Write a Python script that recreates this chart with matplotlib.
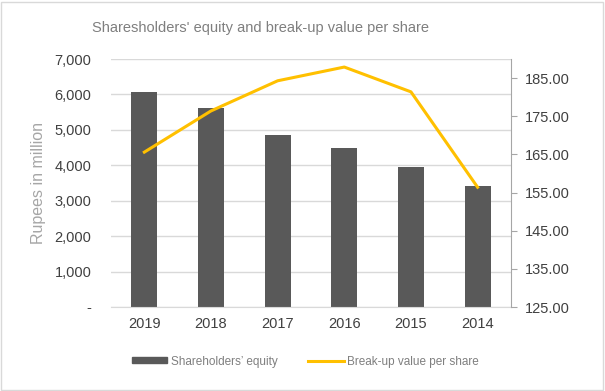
import numpy as np
import matplotlib.pyplot as plt
from matplotlib.ticker import FuncFormatter
from matplotlib.patches import Rectangle
from matplotlib.lines import Line2D

## Chart data
years = ["2019", "2018", "2017", "2016", "2015", "2014"]
equity = [6065, 5620, 4850, 4480, 3950, 3410]          # Rupees in million
breakup_value = [165.6, 176.4, 184.3, 187.9, 181.4, 156.4]  # per share

BAR_COLOR = "#595959"
LINE_COLOR = "#FFC000"
GRID_COLOR = "#d9d9d9"
TEXT_COLOR = "#404040"

plt.rcParams['font.family'] = ['Liberation Sans', 'DejaVu Sans']

fig = plt.figure(figsize=(6.05, 3.91), dpi=100)
ax = fig.add_axes([0.1835, 0.2148, 0.661, 0.6342])
x = np.arange(len(years))

## bars on left axis
ax.bar(x, equity, width=0.39, color=BAR_COLOR, zorder=2)
ax.set_xlim(-0.5, len(years) - 0.5)
ax.set_ylim(0, 7000)
ax.set_yticks(np.arange(0, 7001, 1000))
ax.yaxis.set_major_formatter(FuncFormatter(lambda v, p: "-" if v == 0 else f"{v:,.0f}"))
ax.set_xticks(x)
ax.set_xticklabels(years)
ax.grid(axis='y', color=GRID_COLOR, linewidth=1, zorder=0)
ax.set_axisbelow(True)
for s in ["top", "left", "right"]:
    ax.spines[s].set_visible(False)
ax.spines["bottom"].set_color(GRID_COLOR)
ax.tick_params(axis='both', length=0, labelsize=10.5, colors=TEXT_COLOR)
ax.tick_params(axis='y', pad=14)
ax.tick_params(axis='x', pad=7)
ax.set_ylabel("Rupees in million", fontsize=11.5, color="#a6a6a6", labelpad=6)

## line on right axis
ax2 = ax.twinx()
ax2.plot(x, breakup_value, color=LINE_COLOR, linewidth=2.2, zorder=3)
ax2.set_ylim(125, 190)
ax2.set_yticks(np.arange(125, 186, 10))
ax2.yaxis.set_major_formatter(FuncFormatter(lambda v, p: f"{v:.2f}"))
for s in ["top", "left", "bottom"]:
    ax2.spines[s].set_visible(False)
ax2.spines["right"].set_color("#a6a6a6")
ax2.tick_params(axis='y', length=4, direction='out', color="#a6a6a6",
                labelsize=10.5, labelcolor=TEXT_COLOR, pad=6)

## title
fig.text(0.43, 0.928, "Sharesholders' equity and break-up value per share",
         ha='center', va='center', fontsize=10.5, color="#7f7f7f")

## legend
handles = [Rectangle((0, 0), 1, 1, color=BAR_COLOR),
           Line2D([0], [0], color=LINE_COLOR, linewidth=2.2)]
fig.legend(handles, ["Shareholders’ equity", "Break-up value per share"],
           loc='center', bbox_to_anchor=(0.505, 0.075), ncol=2, frameon=False,
           fontsize=8.5, labelcolor="#7f7f7f", handlelength=3.0,
           handleheight=0.4, columnspacing=2.6, handletextpad=0.3)

## chart border
fig.patches.append(Rectangle((0.002, 0.003), 0.995, 0.993, transform=fig.transFigure,
                             fill=False, edgecolor="#d9d9d9", linewidth=1))

fig.savefig("out.png", dpi=100)
